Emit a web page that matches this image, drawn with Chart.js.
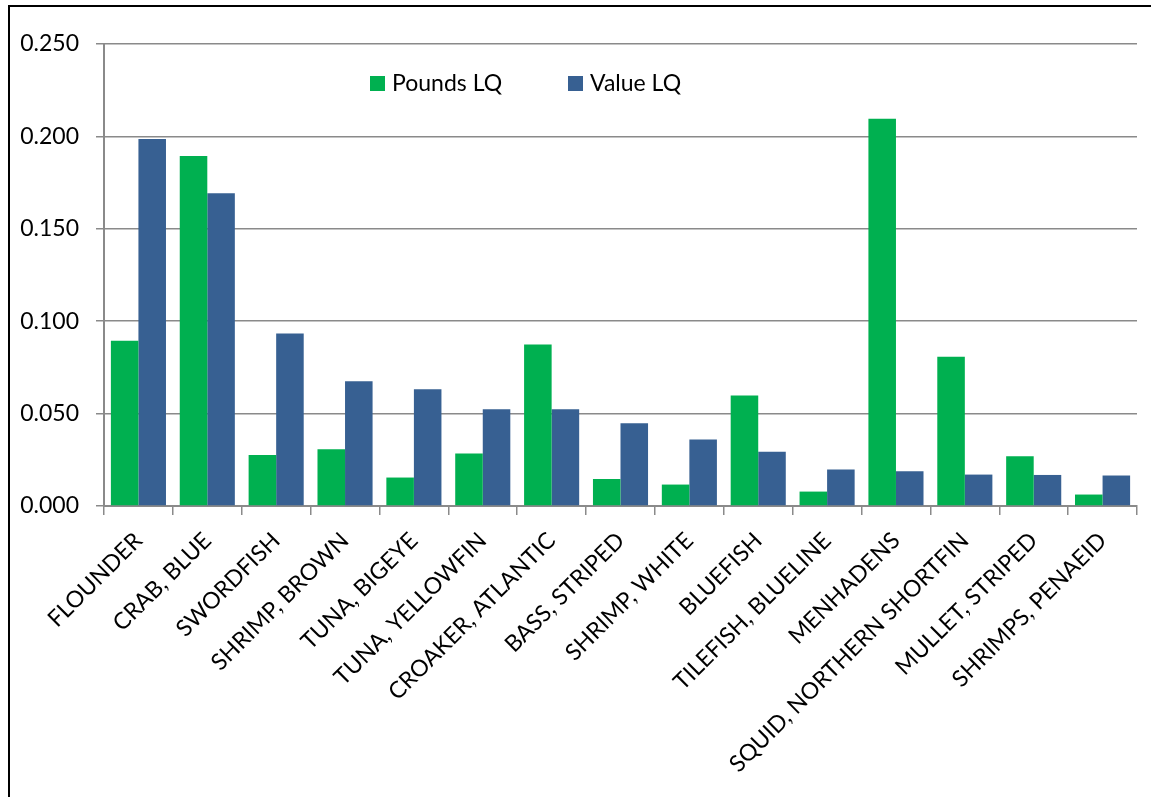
<!DOCTYPE html>
<html>
<head>
<meta charset="utf-8">
<script src="https://cdn.jsdelivr.net/npm/chart.js@4"></script>
<style>
  html, body { margin: 0; padding: 0; background: #fff; overflow: hidden; }
  #frame { position: absolute; left: 8px; top: 5px; width: 1200px; height: 850px; border-left: 2px solid #000; border-top: 2px solid #000; }
  #chart { position: absolute; left: 0; top: 0; }
</style>
</head>
<body>
<div id="frame"></div>
<canvas id="chart" width="1151" height="797"></canvas>
<script>
const species = [
  'FLOUNDER', 'CRAB, BLUE', 'SWORDFISH', 'SHRIMP, BROWN', 'TUNA, BIGEYE',
  'TUNA, YELLOWFIN', 'CROAKER, ATLANTIC', 'BASS, STRIPED', 'SHRIMP, WHITE', 'BLUEFISH',
  'TILEFISH, BLUELINE', 'MENHADENS', 'SQUID, NORTHERN SHORTFIN', 'MULLET, STRIPED', 'SHRIMPS, PENAEID'
];
const poundsLQ = [0.0894, 0.1894, 0.0276, 0.0307, 0.0154, 0.0284, 0.0874, 0.0146, 0.0116, 0.0598, 0.0078, 0.2095, 0.0807, 0.0269, 0.0062];
const valueLQ  = [0.1986, 0.1692, 0.0934, 0.0675, 0.0632, 0.0524, 0.0524, 0.0448, 0.0360, 0.0293, 0.0197, 0.0188, 0.0170, 0.0168, 0.0165];
const yTicks = [0, 0.05, 0.10, 0.15, 0.20, 0.25];

const FONT = 'Lato, "Open Sans", sans-serif';
const gridColor = '#8a8a8a';

// legend sits inside the plot area like the Excel original
const insideLegend = {
  id: 'insideLegend',
  afterDraw(chart) {
    const ctx = chart.ctx;
    const items = [[370, 392], [568, 590]];
    ctx.save();
    ctx.font = '23px ' + FONT;
    ctx.textBaseline = 'middle';
    chart.data.datasets.forEach((ds, i) => {
      const [bx, tx] = items[i];
      ctx.fillStyle = ds.backgroundColor;
      ctx.fillRect(bx, 76, 15, 15);
      ctx.fillStyle = '#000';
      ctx.fillText(ds.label, tx, 84);
    });
    ctx.restore();
  }
};

new Chart(document.getElementById('chart'), {
  type: 'bar',
  data: {
    labels: species,
    datasets: [
      { label: 'Pounds LQ', data: poundsLQ, backgroundColor: '#00b050' },
      { label: 'Value LQ', data: valueLQ, backgroundColor: '#376092' }
    ]
  },
  options: {
    responsive: false,
    animation: false,
    devicePixelRatio: 1,
    datasets: { bar: { categoryPercentage: 0.8, barPercentage: 1.0 } },
    layout: { padding: { left: 0, top: 44, right: 14, bottom: 0 } },
    plugins: { legend: { display: false }, tooltip: { enabled: false } },
    scales: {
      x: {
        offset: true,
        afterFit(scale) { scale.height = 797 - 506; },
        grid: { offset: true, drawOnChartArea: false, drawTicks: true, tickLength: 9, color: gridColor, lineWidth: 1.5 },
        border: { display: true, color: gridColor, width: 2 },
        ticks: { minRotation: 45, maxRotation: 45, autoSkip: false, padding: 12, color: '#000', font: { family: FONT, size: 23 } }
      },
      y: {
        min: 0,
        max: 0.25,
        afterFit(scale) { scale.width = 104; },
        afterBuildTicks(scale) { scale.ticks = yTicks.map(v => ({ value: v })); },
        grid: { color: gridColor, lineWidth: 1.5, tickLength: 8 },
        border: { display: true, color: gridColor, width: 2 },
        ticks: { padding: 17, color: '#000', font: { family: FONT, size: 23 }, callback: v => v.toFixed(3) }
      }
    }
  },
  plugins: [insideLegend]
});
</script>
</body>
</html>
